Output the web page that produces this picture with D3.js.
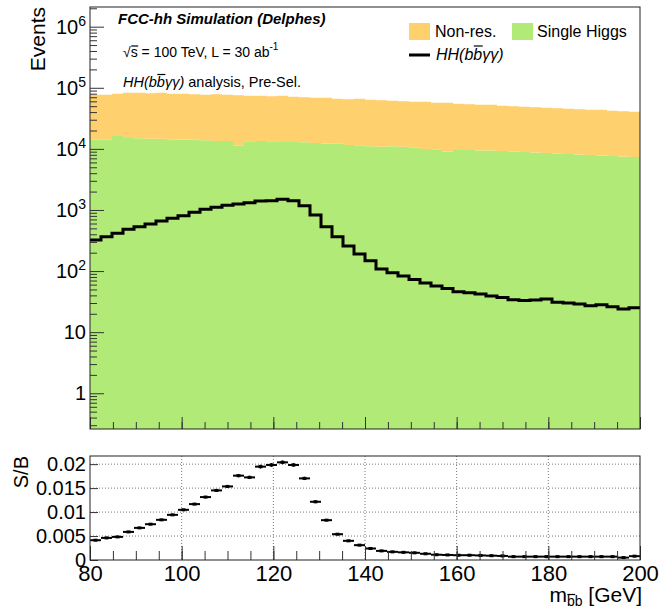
<!DOCTYPE html>
<html>
<head>
<meta charset="utf-8">
<script src="https://cdn.jsdelivr.net/npm/d3@7"></script>
<style>
  body { margin: 0; background: #fff; }
  svg { display: block; font-family: "Liberation Sans", Arial, Helvetica, sans-serif; }
</style>
</head>
<body>
<svg id="chart" width="659" height="609"></svg>
<script>
// m_bb histogram binning (GeV)
const binStart = 80;
const binWidth = 2.4;

// events per bin
const singleHiggs = [
  14100, 14100, 16300, 15100, 14900, 14600, 14600, 14100, 14300, 14100,
  13800, 13500, 13500, 11200, 13300, 13500, 13300, 13000, 13000, 12800,
  12500, 12300, 12100, 11600, 11200, 11000, 10800, 11000, 10800, 10400,
  10000, 9820, 9100, 9630, 9630, 9450, 9450, 9270, 9100, 8930,
  8760, 8600, 8440, 8280, 8120, 7970, 7820, 7680, 7530, 7390
];
const nonRes = [
  62600, 62600, 63500, 67700, 67900, 66700, 68200, 65700, 65500, 64100,
  62900, 64700, 63200, 64100, 60600, 60400, 59200, 60900, 58200, 57100,
  56100, 56300, 53900, 53200, 54800, 52600, 51600, 50200, 49300, 48500,
  48900, 47000, 47700, 45000, 44100, 43300, 43300, 41400, 40700, 39900,
  39100, 38400, 37700, 37000, 36300, 35600, 35800, 34300, 33700, 33000
];
const hhSignal = [
  322, 365, 415, 483, 532, 589, 660, 731, 807, 917,
  1026, 1107, 1195, 1254, 1318, 1405, 1420, 1496, 1420, 1176,
  828, 532, 365, 257, 190, 148, 108, 94, 83, 73,
  64, 57, 52, 46, 44, 42, 39, 37, 34, 33,
  33.5, 35, 31, 30, 29, 27, 28, 26, 24, 25
];
// signal over background ratio and its error
const sOverB = [
  0.00413, 0.00461, 0.00482, 0.00586, 0.0067, 0.00747, 0.00838, 0.00942, 0.01047, 0.01166,
  0.01313, 0.01452, 0.01535, 0.0176, 0.01724, 0.01948, 0.01983, 0.02038, 0.01983, 0.01703,
  0.01215, 0.00831, 0.00538, 0.0040, 0.0031, 0.0024, 0.0019, 0.0017, 0.0016, 0.0015,
  0.0013, 0.0011, 0.00105, 0.0010, 0.0010, 0.00095, 0.0009, 0.00085, 0.0007, 0.0007,
  0.0007, 0.0007, 0.0007, 0.0007, 0.0007, 0.0007, 0.0007, 0.0007, 0.0005, 0.0008
];
const sOverBErr = [
  0.0001, 0.0001, 0.0001, 0.0001, 0.0001, 0.0001, 0.0001, 0.0001, 0.00015, 0.0002,
  0.00025, 0.0003, 0.0003, 0.00035, 0.00035, 0.0004, 0.0004, 0.0004, 0.0004, 0.00035,
  0.0003, 0.0002, 0.00015, 0.0001, 0.0001, 0.0001, 0.0001, 0.0001, 0.0001, 0.0001,
  0.0001, 0.0001, 0.0001, 0.0001, 0.0001, 0.0001, 0.0001, 0.0001, 0.0001, 0.0001,
  0.0001, 0.0001, 0.0001, 0.0001, 0.0001, 0.0001, 0.0001, 0.0001, 0.0001, 0.0001
];

const xMajorTicks = [80, 100, 120, 140, 160, 180, 200];
const xMinorTicks = d3.range(80, 201, 5);
const yTopMajorTicks = [1, 10, 1e2, 1e3, 1e4, 1e5, 1e6];
const yBotTicks = [0, 0.005, 0.01, 0.015, 0.02];

const colNonRes = "#fed06e";
const colSingle = "#b2ea78";
const axisCol = "#333";

const svg = d3.select("#chart");

// pad geometry
const plotLeft = 90, plotRight = 640;
const topY0 = 7, topY1 = 429;
const botY0 = 456, botY1 = 560;

const x = d3.scaleLinear().domain([80, 200]).range([plotLeft, plotRight]);
const yTop = d3.scaleLog().domain([0.26, 2.1e6]).range([topY1, topY0]);
const yBot = d3.scaleLinear().domain([0, 0.0217]).range([botY1, botY0]);

const rows = singleHiggs.map((v, i) => ({
  lo: binStart + i * binWidth,
  single: v,
  nonres: nonRes[i],
  hh: hhSignal[i],
  sb: sOverB[i],
  err: sOverBErr[i],
}));
const xEnd = binStart + rows.length * binWidth;

/* repeat the last bin at the upper edge so step curves close the histogram */
function stepPoints(arr, getX) {
  const last = arr[arr.length - 1];
  return arr.map((d, i) => ({ x: getX(d, i), d })).concat([{ x: xEnd, d: last }]);
}

// ---------- top pad ----------
svg.append("clipPath").attr("id", "clipTop")
  .append("rect")
  .attr("x", plotLeft).attr("y", topY0)
  .attr("width", plotRight - plotLeft).attr("height", topY1 - topY0);

const stack = d3.stack().keys(["single", "nonres"]);
const series = stack(rows);
const yMin = yTop.domain()[0];

const area = d3.area()
  .curve(d3.curveStepAfter)
  .x((p) => x(p.x))
  .y0((p) => yTop(Math.max(p.d[0], yMin)))
  .y1((p) => yTop(Math.max(p.d[1], yMin)));

const fillG = svg.append("g").attr("clip-path", "url(#clipTop)");
fillG.selectAll("path.bkg")
  .data(series)
  .join("path")
  .attr("class", "bkg")
  .attr("fill", (s) => (s.key === "single" ? colSingle : colNonRes))
  .attr("d", (s) => area(stepPoints(s, (d, i) => rows[i].lo)));

const hhLine = d3.line()
  .curve(d3.curveStepAfter)
  .x((p) => x(p.x))
  .y((p) => yTop(p.d.hh));
fillG.append("path")
  .attr("fill", "none")
  .attr("stroke", "#000")
  .attr("stroke-width", 3)
  .attr("d", hhLine(stepPoints(rows, (d) => d.lo)));

// y axis (log), ticks inside the frame
const yTopMinor = [];
for (let e = -1; e <= 6; e++) {
  for (let m = 2; m <= 9; m++) {
    const v = m * Math.pow(10, e);
    if (v >= yTop.domain()[0] && v <= yTop.domain()[1]) yTopMinor.push(v);
  }
}
svg.append("g")
  .attr("transform", `translate(${plotLeft},0)`)
  .call(d3.axisLeft(yTop).tickValues(yTopMinor).tickSize(-7).tickFormat(""))
  .call((g) => g.select(".domain").remove())
  .call((g) => g.selectAll("line").attr("stroke", axisCol));

const yTopAxis = svg.append("g")
  .attr("transform", `translate(${plotLeft},0)`)
  .call(d3.axisLeft(yTop).tickValues(yTopMajorTicks).tickSize(-14).tickPadding(4).tickFormat(""))
  .call((g) => g.select(".domain").remove())
  .call((g) => g.selectAll("line").attr("stroke", axisCol));
yTopAxis.attr("font-size", 20).attr("font-family", null);
yTopAxis.selectAll(".tick text").each(function (d) {
  const t = d3.select(this).attr("fill", "#000");
  const exp = Math.round(Math.log10(d));
  if (exp < 2) {
    t.text(String(d));
  } else {
    t.text("10");
    t.append("tspan").attr("font-size", 14).attr("dy", "-0.55em").text(exp);
  }
});

// x ticks of the top pad
svg.append("g")
  .attr("transform", `translate(0,${topY1})`)
  .call(d3.axisBottom(x).tickValues(xMinorTicks).tickSize(-7).tickFormat(""))
  .call((g) => g.select(".domain").remove())
  .call((g) => g.selectAll("line").attr("stroke", axisCol));
svg.append("g")
  .attr("transform", `translate(0,${topY1})`)
  .call(d3.axisBottom(x).tickValues(xMajorTicks).tickSize(-12).tickFormat(""))
  .call((g) => g.select(".domain").remove())
  .call((g) => g.selectAll("line").attr("stroke", axisCol));

svg.append("rect")
  .attr("x", plotLeft).attr("y", topY0)
  .attr("width", plotRight - plotLeft).attr("height", topY1 - topY0)
  .attr("fill", "none").attr("stroke", "#222").attr("stroke-width", 1);

svg.append("text")
  .attr("transform", `translate(45,${topY0}) rotate(-90)`)
  .attr("text-anchor", "end")
  .attr("font-size", 21)
  .text("Events");

/* draw a bar over one character of a text element */
function overline(textSel, idx, rise) {
  const node = textSel.node();
  const a = node.getStartPositionOfChar(idx);
  const b = node.getEndPositionOfChar(idx);
  svg.append("line")
    .attr("x1", a.x + 0.5).attr("x2", b.x + 0.5)
    .attr("y1", a.y - rise).attr("y2", a.y - rise)
    .attr("stroke", "#000").attr("stroke-width", 1.2);
}

// labels inside the top pad
svg.append("text")
  .attr("x", 118).attr("y", 24)
  .attr("font-size", 15).attr("font-weight", "bold").attr("font-style", "italic")
  .text("FCC-hh Simulation (Delphes)");

const lumiText = svg.append("text").attr("x", 123).attr("y", 57).attr("font-size", 14);
lumiText.append("tspan").text("\u221As = 100 TeV, L = 30 ab");
lumiText.append("tspan").attr("font-size", 10).attr("dy", "-0.7em").text("-1");
overline(lumiText, 1, 11);

const anaText = svg.append("text").attr("x", 123).attr("y", 87).attr("font-size", 14.5);
anaText.append("tspan").attr("font-style", "italic").text("HH(bb\u03B3\u03B3)");
anaText.append("tspan").text(" analysis, Pre-Sel.");
overline(anaText, 4, 12.5);

// legend
const legend = svg.append("g").attr("font-size", 16);
legend.append("rect").attr("x", 409).attr("y", 23).attr("width", 21).attr("height", 17).attr("fill", colNonRes);
legend.append("text").attr("x", 435).attr("y", 37).text("Non-res.");
legend.append("rect").attr("x", 512).attr("y", 23).attr("width", 21).attr("height", 17).attr("fill", colSingle);
legend.append("text").attr("x", 537).attr("y", 37).text("Single Higgs");
legend.append("line").attr("x1", 409).attr("x2", 430).attr("y1", 55).attr("y2", 55)
  .attr("stroke", "#000").attr("stroke-width", 3);
const legHH = legend.append("text").attr("x", 436).attr("y", 60).attr("font-style", "italic")
  .text("HH(bb\u03B3\u03B3)");
overline(legHH, 4, 14);

// ---------- bottom pad (S/B) ----------
const gridG = svg.append("g")
  .attr("stroke", "#777").attr("stroke-width", 1).attr("stroke-dasharray", "1,2");
gridG.selectAll("line.h")
  .data(yBotTicks.filter((d) => d > 0))
  .join("line")
  .attr("class", "h")
  .attr("x1", plotLeft).attr("x2", plotRight)
  .attr("y1", (d) => yBot(d)).attr("y2", (d) => yBot(d));
gridG.selectAll("line.v")
  .data(xMajorTicks.filter((d) => d > 80 && d < 200))
  .join("line")
  .attr("class", "v")
  .attr("x1", (d) => x(d)).attr("x2", (d) => x(d))
  .attr("y1", botY0).attr("y2", botY1);

const pts = svg.append("g").attr("stroke", "#000");
pts.selectAll("line.xe")
  .data(rows)
  .join("line")
  .attr("class", "xe")
  .attr("stroke-width", 2)
  .attr("x1", (d) => x(d.lo)).attr("x2", (d) => x(d.lo + binWidth))
  .attr("y1", (d) => yBot(d.sb)).attr("y2", (d) => yBot(d.sb));
pts.selectAll("line.ye")
  .data(rows)
  .join("line")
  .attr("class", "ye")
  .attr("stroke-width", 1.5)
  .attr("x1", (d) => x(d.lo + binWidth / 2)).attr("x2", (d) => x(d.lo + binWidth / 2))
  .attr("y1", (d) => yBot(d.sb - d.err)).attr("y2", (d) => yBot(d.sb + d.err));
pts.selectAll("rect")
  .data(rows)
  .join("rect")
  .attr("stroke", "none").attr("fill", "#000")
  .attr("x", (d) => x(d.lo + binWidth / 2) - 2).attr("y", (d) => yBot(d.sb) - 1.5)
  .attr("width", 4).attr("height", 3);

svg.append("g")
  .attr("transform", `translate(0,${botY1})`)
  .call(d3.axisBottom(x).tickValues(xMinorTicks).tickSize(-9).tickFormat(""))
  .call((g) => g.select(".domain").remove())
  .call((g) => g.selectAll("line").attr("stroke", axisCol));
const xBotAxis = svg.append("g")
  .attr("transform", `translate(0,${botY1})`)
  .call(d3.axisBottom(x).tickValues(xMajorTicks).tickSize(-14).tickPadding(5).tickFormat(d3.format("d")))
  .call((g) => g.select(".domain").remove())
  .call((g) => g.selectAll("line").attr("stroke", axisCol));
xBotAxis.attr("font-size", 22).attr("font-family", null);
xBotAxis.selectAll("text").attr("fill", "#000");

const yBotAxis = svg.append("g")
  .attr("transform", `translate(${plotLeft},0)`)
  .call(d3.axisLeft(yBot).tickValues(yBotTicks).tickSize(-8).tickPadding(4)
    .tickFormat((d) => (d === 0 ? "0" : String(+d.toFixed(3)))))
  .call((g) => g.select(".domain").remove())
  .call((g) => g.selectAll("line").attr("stroke", axisCol));
yBotAxis.attr("font-size", 20).attr("font-family", null);
yBotAxis.selectAll("text").attr("fill", "#000");

svg.append("rect")
  .attr("x", plotLeft).attr("y", botY0)
  .attr("width", plotRight - plotLeft).attr("height", botY1 - botY0)
  .attr("fill", "none").attr("stroke", "#222").attr("stroke-width", 1);

svg.append("text")
  .attr("transform", `translate(28,${botY0}) rotate(-90)`)
  .attr("text-anchor", "end")
  .attr("font-size", 20)
  .text("S/B");

// x axis title m_{bb} [GeV]
const xTitle = svg.append("text")
  .attr("x", 642).attr("y", 602)
  .attr("text-anchor", "end")
  .attr("font-size", 21);
xTitle.append("tspan").text("m");
xTitle.append("tspan").attr("font-size", 14).attr("dy", 4).text("bb");
xTitle.append("tspan").attr("dy", -4).text(" [GeV]");
overline(xTitle, 1, 11.5);
</script>
</body>
</html>
